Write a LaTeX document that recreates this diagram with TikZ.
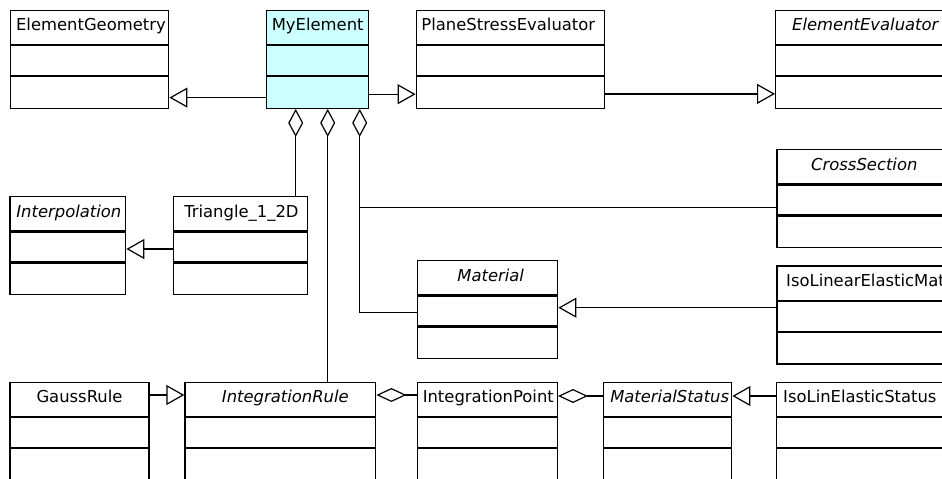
\documentclass[tikz,border=0pt]{standalone}
\usepackage{fontspec}
\setmainfont{DejaVu Sans}
\usetikzlibrary{arrows.meta}
\definecolor{mycyan}{RGB}{204,255,255}
\tikzset{
  ubox/.style={draw=black, line width=1.4pt, fill=white, anchor=north west, inner sep=0pt, minimum height=98pt},
  sepline/.style={line width=2.3pt},
  ttl/.style={anchor=base, inner sep=0pt, font=\fontsize{16.4}{19}\selectfont},
  ttlw/.style={anchor=base west, inner sep=0pt, font=\fontsize{16.4}{19}\selectfont},
  conn/.style={line width=1.2pt},
  gen/.style={conn, -{Triangle[open, length=18pt, width=20pt, line width=1.2pt]}},
  agg/.style={conn, {Diamond[open, length=28pt, width=15pt, line width=1.2pt]}-},
  aggend/.style={conn, -{Diamond[open, length=30pt, width=14pt, line width=1.2pt]}},
}
\newcommand{\klass}[5]{%
  \node[ubox, minimum width=#4pt, #5] (#1) at (#2,#3) {};
  \draw[sepline] ([yshift=-35.5pt]#1.north west) -- ([yshift=-35.5pt]#1.north east);
  \draw[sepline] ([yshift=-66.5pt]#1.north west) -- ([yshift=-66.5pt]#1.north east);
}
\begin{document}
\begin{tikzpicture}[x=1pt, y=-1pt]
\useasboundingbox (0,0) rectangle (942,479);
\clip (0,0) rectangle (942,479);
\fill[white] (0,0) rectangle (942,479);
% top row
\klass{eg}{9.5}{9.5}{158.5}{}
\klass{my}{266}{9.5}{102}{fill=mycyan}
\klass{pse}{415.6}{9.5}{188}{}
\klass{ee}{775}{9.5}{178}{}
% middle
\klass{interp}{9.3}{196}{115.7}{}
\klass{tri}{172.7}{196}{134}{}
\klass{cs}{776.3}{149}{183}{}
\klass{mat}{417}{260}{140}{}
\klass{ilem}{776.3}{265.3}{214}{}
% bottom
\klass{gauss}{9.3}{381.7}{139}{}
\klass{ir}{184.3}{381.7}{190.7}{}
\klass{ip}{416.6}{381.7}{140}{}
\klass{ms}{603}{381.7}{128}{}
\klass{ilst}{776}{381.7}{214}{}
% titles
\node[ttl] (eg-t) at ([xshift=1.5pt,yshift=-21pt]eg.north) {ElementGeometry};
\node[ttl] (my-t) at ([yshift=-21pt]my.north) {MyElement};
\node[ttl] (pse-t) at ([xshift=-2pt,yshift=-21pt]pse.north) {PlaneStressEvaluator};
\node[ttlw] (ee-t) at ([xshift=17pt,yshift=-21pt]ee.north west) {\itshape ElementEvaluator};
\node[ttl] (interp-t) at ([xshift=1pt,yshift=-21pt]interp.north) {\itshape Interpolation};
\node[ttl] (tri-t) at ([xshift=1pt,yshift=-21pt]tri.north) {Triangle\_1\_2D};
\node[ttlw] (cs-t) at ([xshift=34.7pt,yshift=-21pt]cs.north west) {\itshape CrossSection};
\node[ttl] (mat-t) at ([xshift=3pt,yshift=-21pt]mat.north) {\itshape Material};
\node[ttlw] (ilem-t) at ([xshift=9.7pt,yshift=-21pt]ilem.north west) {IsoLinearElasticMaterial};
\node[ttl] (gauss-t) at ([yshift=-21pt]gauss.north) {GaussRule};
\node[ttl] (ir-t) at ([xshift=5pt,yshift=-21pt]ir.north) {\itshape IntegrationRule};
\node[ttl] (ip-t) at ([xshift=1pt,yshift=-21pt]ip.north) {IntegrationPoint};
\node[ttl] (ms-t) at ([xshift=2pt,yshift=-21pt]ms.north) {\itshape MaterialStatus};
\node[ttlw] (ilst-t) at ([xshift=7pt,yshift=-21pt]ilst.north west) {IsoLinElasticStatus};
% generalisations
\draw[gen] ([yshift=11.3pt]my.south west) -- ([yshift=11.3pt]eg.south east);
\draw[gen] ([yshift=14.7pt]my.south east) -- ([yshift=14.7pt]pse.south west);
\draw[gen] ([yshift=15pt]pse.south east) -- ([yshift=15pt]ee.south west);
\draw[gen] ([yshift=-53pt]tri.north west) -- ([yshift=-53pt]interp.north east);
\draw[gen] ([yshift=-42.4pt]ilem.north west) -- ([yshift=-42.4pt]ilem.north west -| mat.east);
\draw[gen] ([yshift=-13.3pt]gauss.north east) -- ([yshift=-13.3pt]ir.north west);
\draw[gen] ([yshift=-14.3pt]ilst.north west) -- ([yshift=-14.3pt]ms.north east);
% aggregations
\coordinate (a1) at ([xshift=-22pt]my.south);
\coordinate (a2) at ([xshift=10pt]my.south);
\coordinate (a3) at ([xshift=42pt]my.south);
\coordinate (csin) at ([yshift=-58.3pt]cs.north west);
\coordinate (matin) at ([yshift=-52.7pt]mat.north west);
\draw[agg] (a1) -- (a1 |- tri.north);
\draw[agg] (a2) -- (a2 |- ir.north);
\draw[agg] (a3) |- (matin);
\draw[conn] (a3 |- csin) -- (csin);
\draw[aggend] ([yshift=-13.3pt]ip.north west) -- ([yshift=-13.3pt]ir.north east);
\draw[aggend] ([yshift=-14.3pt]ms.north west) -- ([yshift=-14.3pt]ip.north east);
\end{tikzpicture}
\end{document}
